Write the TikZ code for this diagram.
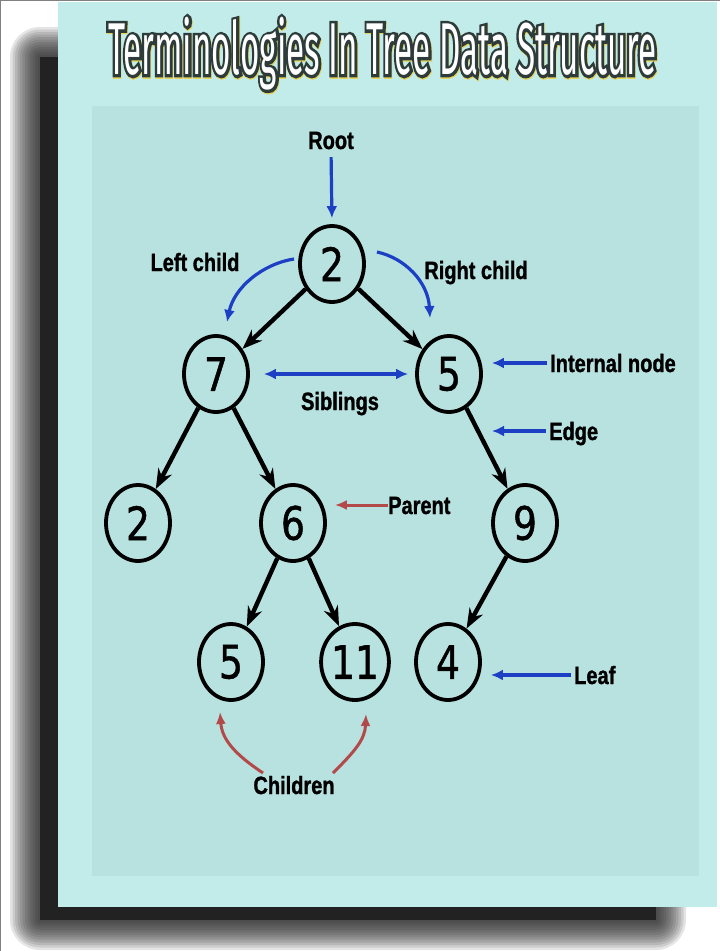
\documentclass[tikz,border=0pt]{standalone}
\usepackage{fontspec}
\usepackage{graphicx}
\usetikzlibrary{shapes.geometric,arrows.meta,calc}
\newfontfamily\lblfont{Liberation Sans Bold}[FakeStretch=0.8,FakeBold=1.2]
\newfontfamily\numfont{DejaVu Sans}[FakeStretch=0.82,FakeBold=1]
\newfontfamily\ttlfont{Fira Sans}[FakeStretch=0.52]
\newfontfamily\ttlrim{Fira Sans}[FakeStretch=0.52,FakeBold=8]
\definecolor{panel}{HTML}{C1ECEA}
\definecolor{inner}{HTML}{B8E2E0}
\definecolor{annblue}{HTML}{1C3FC4}
\definecolor{annred}{HTML}{B34A4A}
\definecolor{dropcol}{HTML}{222222}
\definecolor{ttlline}{HTML}{2E3B3B}
\definecolor{ttlglow}{HTML}{E6D35A}
\newcommand{\ttltext}[1]{\resizebox*{548pt}{73pt}{\fontsize{70}{70}#1Terminologies In Tree Data Structure}}

\begin{document}
\begin{tikzpicture}[x=1pt,y=-1pt,
	key/.style={draw,ellipse,line width=3.8pt,minimum width=64pt,minimum height=76pt,inner sep=0pt,font=\numfont\fontsize{46}{46}\selectfont},
	lbl/.style={font=\lblfont\fontsize{25}{25}\selectfont,inner sep=0pt,text height=18pt,text depth=0pt},
	link/.style={line width=4.4pt,-{Stealth[length=20pt,width=15pt]}},
	blu/.style={annblue,line width=3.2pt,-{Latex[length=12pt,width=11pt]}},
	rd/.style={annred,line width=3pt,-{Latex[length=12pt,width=10pt]}}]
	\useasboundingbox (0,0) rectangle (720,951);
	\fill[white] (0,0) rectangle (720,951);
	\draw[gray,line width=2pt] (0,951) -- (0,0) -- (720,0);
	% shadow
	\foreach \i in {1,...,12}
		\fill[dropcol,opacity=0.12,rounded corners=2.5*\i] ({40-2.5*\i},{57-2.5*\i}) rectangle ({656+2.5*\i},{920+2.5*\i});
	\fill[dropcol] (40,57) rectangle (656,920);
	% panels
	\fill[panel] (58,2) rectangle (717,907);
	\fill[inner] (92,106) rectangle (699,876);
	% title
	\node (ttlglow) [anchor=north west,inner sep=0pt,text=ttlglow] at (108.6,18.3) {\ttltext{\ttlrim}};
	\node (ttlrim) [anchor=north west,inner sep=0pt,text=ttlline] at (108,17) {\ttltext{\ttlrim}};
	\node (title) [anchor=north west,inner sep=0pt,text=white] at (108,17) {\ttltext{\ttlfont}};
	% tree
	\node[key] (root) at (332,264) {2};
	\node[key] (n7) at (216,374) {7};
	\node[key] (n5) at (449,374) {5};
	\node[key] (n2) at (138,523) {2};
	\node[key] (n6) at (293,523) {6};
	\node[key] (n9) at (525,523) {9};
	\node[key] (n5b) at (231,662) {5};
	\node[key] (n11) at (355,662) {11};
	\node[key] (n4) at (448,662) {4};
	\foreach \s/\t in {root/n7,root/n5,n7/n2,n7/n6,n5/n9,n6/n5b,n6/n11,n9/n4}
		\draw[link] (\s) -- (\t);
	% labels
	\node[lbl] (rootlbl) at (331,140) {Root};
	\draw[blu,shorten <=8pt,shorten >=6pt] (rootlbl.south) -- (root.north);
	\node[lbl] (leftlbl) at (195,262) {Left child};
	\coordinate (lcs) at (294,259);
	\coordinate (lct) at (227,322);
	\draw[blu] (lcs) .. controls (262,264) and (234,288) .. (lct);
	\node[lbl] (rightlbl) at (476,270) {Right child};
	\coordinate (rcs) at (377,252);
	\coordinate (rct) at (430,318);
	\draw[blu] (rcs) .. controls (405,258) and (428,282) .. (rct);
	\draw[blu,{Latex[length=12pt,width=11pt]}-{Latex[length=12pt,width=11pt]},shorten <=14pt,shorten >=7pt] (n7) -- (n5);
	\node[lbl] (siblbl) at (340,401) {Siblings};
	\node[lbl,anchor=west] (intlbl) at (550,363) {Internal node};
	\draw[blu,shorten <=3pt,shorten >=9pt] (intlbl.west) -- (intlbl.west -| n5.east);
	\node[lbl,anchor=west] (edgelbl) at (549,431) {Edge};
	\draw[blu,shorten <=3pt] (edgelbl.west) -- ++(-57,0);
	\node[lbl,anchor=west] (parlbl) at (388,505) {Parent};
	\draw[rd,shorten >=8pt] (parlbl.west) -- (parlbl.west -| n6.east);
	\node[lbl,anchor=west] (leaflbl) at (574,675) {Leaf};
	\draw[blu,shorten <=3pt,shorten >=9pt] (leaflbl.west) -- (leaflbl.west -| n4.east);
	\node[lbl] (chlbl) at (294,785) {Children};
	\coordinate (chl) at (263,773);
	\coordinate (chr) at (333,773);
	\draw[rd] (chl) .. controls (236,755) and (222,740) .. (220,712);
	\draw[rd] (chr) .. controls (354,752) and (365,740) .. (366,714);
\end{tikzpicture}
\end{document}
